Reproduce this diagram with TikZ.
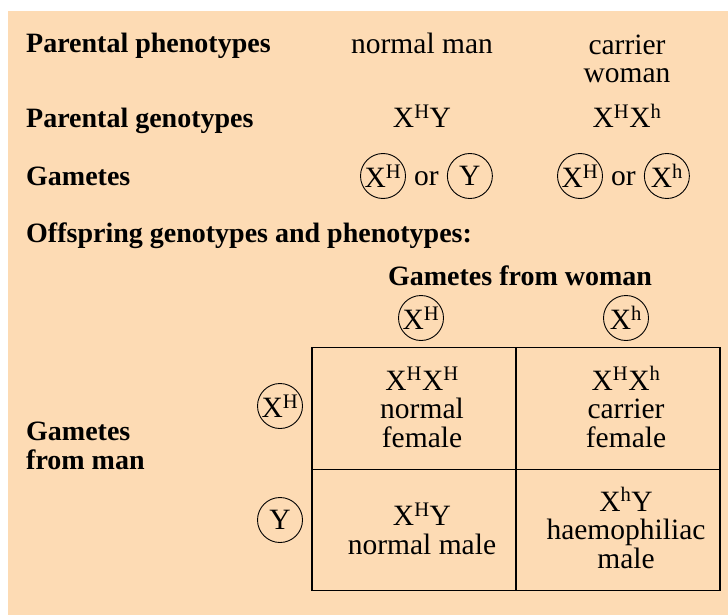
\documentclass[tikz,border=0pt]{standalone}
\usepackage{fontspec}
\setmainfont{Liberation Serif}
\usetikzlibrary{positioning}
\definecolor{peach}{RGB}{253,219,180}
\newcommand{\allele}[1]{X\textsuperscript{#1}}

\begin{document}
\begin{tikzpicture}[
  x=1pt, y=-1pt,
  font=\fontsize{29.5}{28.5}\selectfont,
  head/.style={anchor=base west, align=left, inner xsep=0pt, font=\fontsize{28}{29}\selectfont\bfseries},
  txt/.style={anchor=base, align=center},
  gam/.style={circle, draw, line width=0.9pt, minimum size=45pt, inner sep=0pt},
  orword/.style={text height=18pt, text depth=0pt, inner sep=0pt},
  cell/.style={draw, line width=1.2pt, outer sep=0pt, minimum width=204pt, minimum height=121.5pt},
  node distance=8pt,
]
% ---- page and panel ----
\useasboundingbox (0,0) rectangle (728,615);
\fill[peach] (8,11) rectangle (728,615);

% ---- parents ----
\node[head] (phen) at (26,53) {Parental phenotypes};
\node[head] (gen) at (26,128) {Parental genotypes};
\node[head] (gam) at (26,185) {Gametes};
\node[txt] (man) at (422,54) {normal man};
\node[txt] (woman) at (627,83) {carrier\\woman};
\node[txt] (mangen) at (422,128) {\allele{H}Y};
\node[txt] (womangen) at (627,128) {\allele{H}\allele{h}};

% ---- parental gametes ----
\node[gam] (mg1) at (383,176) {\allele{H}};
\node[orword, right=of mg1] (mor) {or};
\node[gam, right=of mor] (mg2) {Y};
\node[gam] (wg1) at (580,176) {\allele{H}};
\node[orword, right=of wg1] (wor) {or};
\node[gam, right=of wor] (wg2) {\allele{h}};

% ---- offspring ----
\node[head] (off) at (26,242) {Offspring genotypes and phenotypes:};
\node[head, anchor=base] (fromw) at (520,285) {Gametes from woman};
\node[head] (fromm) at (26,469) {Gametes\\from man};
\node[gam] (cw1) at (421,318) {\allele{H}};
\node[gam] (cw2) at (626,318) {\allele{h}};
\node[gam] (cm1) at (280,406) {\allele{H}};
\node[gam] (cm2) at (280,520) {Y};

% ---- punnett square ----
\node[cell] (c11) at (414,408.5) {};
\node[cell, right=0pt of c11] (c12) {};
\node[cell, below=0pt of c11] (c21) {};
\node[cell, right=0pt of c21] (c22) {};
\node[txt] (t11) at (422,447) {\allele{H}\allele{H}\\normal\\female};
\node[txt] (t12) at (626,447) {\allele{H}\allele{h}\\carrier\\female};
\node[txt] (t21) at (422,554) {\allele{H}Y\\normal male};
\node[txt] (t22) at (626,568) {\allele{h}Y\\haemophiliac\\male};
\end{tikzpicture}
\end{document}
